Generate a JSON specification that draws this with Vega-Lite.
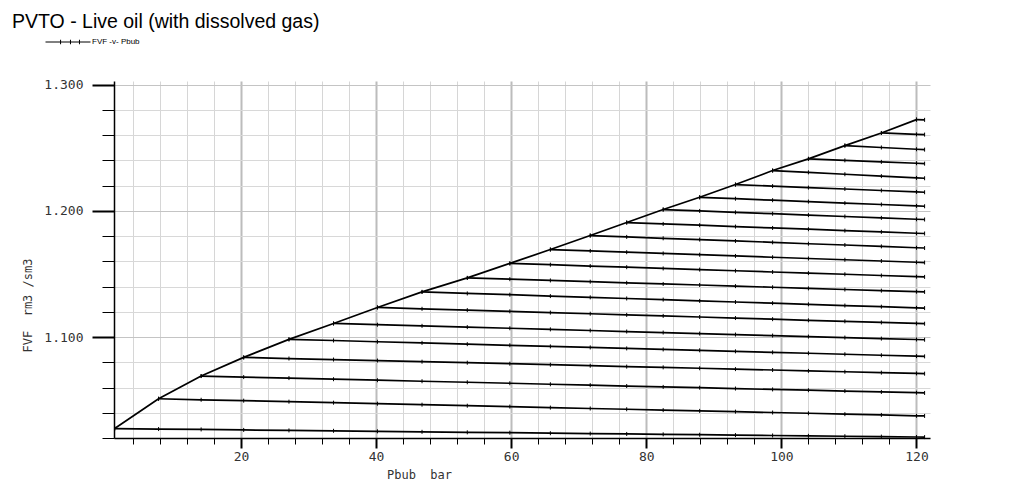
{
  "$schema": "https://vega.github.io/schema/vega-lite/v6.json",
  "width": 816,
  "height": 357,
  "autosize": {"type": "none"},
  "padding": {"left": 114, "top": 81, "right": 97, "bottom": 44},
  "background": "white",
  "config": {"view": {"stroke": null}},
  "title": {
    "text": "PVTO - Live oil (with dissolved gas)",
    "anchor": "start", "frame": "group", "orient": "top",
    "font": "Liberation Sans", "fontSize": 19.5, "fontWeight": "normal", "color": "#000000",
    "dx": -102, "offset": -28, "baseline": "alphabetic"
  },
  "data": {"values": [
    {"branch":"sat","pbub":1.3,"fvf":1.0275},{"branch":"sat","pbub":7.8,"fvf":1.0511},{"branch":"sat","pbub":14.1,"fvf":1.0691},{"branch":"sat","pbub":20.4,"fvf":1.0839},{"branch":"sat","pbub":27.1,"fvf":1.0982},{"branch":"sat","pbub":33.7,"fvf":1.1108},{"branch":"sat","pbub":40.2,"fvf":1.1235},{"branch":"sat","pbub":46.8,"fvf":1.1358},{"branch":"sat","pbub":53.5,"fvf":1.1469},{"branch":"sat","pbub":59.8,"fvf":1.1584},{"branch":"sat","pbub":65.8,"fvf":1.1694},{"branch":"sat","pbub":71.7,"fvf":1.1805},{"branch":"sat","pbub":77.1,"fvf":1.1908},{"branch":"sat","pbub":82.5,"fvf":1.2011},{"branch":"sat","pbub":87.9,"fvf":1.2108},{"branch":"sat","pbub":93.2,"fvf":1.2209},{"branch":"sat","pbub":98.7,"fvf":1.2320},{"branch":"sat","pbub":104.0,"fvf":1.2413},{"branch":"sat","pbub":109.4,"fvf":1.2518},{"branch":"sat","pbub":114.8,"fvf":1.2618},{"branch":"sat","pbub":120.0,"fvf":1.2724},

    {"branch":"1","pbub":1.3,"fvf":1.0275},{"branch":"1","pbub":7.8,"fvf":1.0271},{"branch":"1","pbub":14.1,"fvf":1.0268},{"branch":"1","pbub":20.4,"fvf":1.0264},{"branch":"1","pbub":27.1,"fvf":1.0260},{"branch":"1","pbub":33.7,"fvf":1.0257},{"branch":"1","pbub":40.2,"fvf":1.0253},{"branch":"1","pbub":46.8,"fvf":1.0249},{"branch":"1","pbub":53.5,"fvf":1.0245},{"branch":"1","pbub":59.8,"fvf":1.0242},{"branch":"1","pbub":65.8,"fvf":1.0238},{"branch":"1","pbub":71.7,"fvf":1.0235},{"branch":"1","pbub":77.1,"fvf":1.0232},{"branch":"1","pbub":82.5,"fvf":1.0229},{"branch":"1","pbub":87.9,"fvf":1.0226},{"branch":"1","pbub":93.2,"fvf":1.0223},{"branch":"1","pbub":98.7,"fvf":1.0220},{"branch":"1","pbub":104.0,"fvf":1.0217},{"branch":"1","pbub":109.4,"fvf":1.0214},{"branch":"1","pbub":114.8,"fvf":1.0211},{"branch":"1","pbub":120.0,"fvf":1.0208},{"branch":"1","pbub":121.2,"fvf":1.0207},

    {"branch":"2","pbub":7.8,"fvf":1.0511},{"branch":"2","pbub":14.1,"fvf":1.0503},{"branch":"2","pbub":20.4,"fvf":1.0496},{"branch":"2","pbub":27.1,"fvf":1.0488},{"branch":"2","pbub":33.7,"fvf":1.0480},{"branch":"2","pbub":40.2,"fvf":1.0472},{"branch":"2","pbub":46.8,"fvf":1.0464},{"branch":"2","pbub":53.5,"fvf":1.0456},{"branch":"2","pbub":59.8,"fvf":1.0449},{"branch":"2","pbub":65.8,"fvf":1.0441},{"branch":"2","pbub":71.7,"fvf":1.0434},{"branch":"2","pbub":77.1,"fvf":1.0428},{"branch":"2","pbub":82.5,"fvf":1.0421},{"branch":"2","pbub":87.9,"fvf":1.0415},{"branch":"2","pbub":93.2,"fvf":1.0409},{"branch":"2","pbub":98.7,"fvf":1.0402},{"branch":"2","pbub":104.0,"fvf":1.0396},{"branch":"2","pbub":109.4,"fvf":1.0389},{"branch":"2","pbub":114.8,"fvf":1.0383},{"branch":"2","pbub":120.0,"fvf":1.0376},{"branch":"2","pbub":121.2,"fvf":1.0375},

    {"branch":"3","pbub":14.1,"fvf":1.0691},{"branch":"3","pbub":20.4,"fvf":1.0683},{"branch":"3","pbub":27.1,"fvf":1.0675},{"branch":"3","pbub":33.7,"fvf":1.0666},{"branch":"3","pbub":40.2,"fvf":1.0658},{"branch":"3","pbub":46.8,"fvf":1.0650},{"branch":"3","pbub":53.5,"fvf":1.0642},{"branch":"3","pbub":59.8,"fvf":1.0634},{"branch":"3","pbub":65.8,"fvf":1.0626},{"branch":"3","pbub":71.7,"fvf":1.0619},{"branch":"3","pbub":77.1,"fvf":1.0612},{"branch":"3","pbub":82.5,"fvf":1.0605},{"branch":"3","pbub":87.9,"fvf":1.0599},{"branch":"3","pbub":93.2,"fvf":1.0592},{"branch":"3","pbub":98.7,"fvf":1.0585},{"branch":"3","pbub":104.0,"fvf":1.0579},{"branch":"3","pbub":109.4,"fvf":1.0572},{"branch":"3","pbub":114.8,"fvf":1.0565},{"branch":"3","pbub":120.0,"fvf":1.0559},{"branch":"3","pbub":121.2,"fvf":1.0557},

    {"branch":"4","pbub":20.4,"fvf":1.0839},{"branch":"4","pbub":27.1,"fvf":1.0830},{"branch":"4","pbub":33.7,"fvf":1.0822},{"branch":"4","pbub":40.2,"fvf":1.0814},{"branch":"4","pbub":46.8,"fvf":1.0805},{"branch":"4","pbub":53.5,"fvf":1.0797},{"branch":"4","pbub":59.8,"fvf":1.0789},{"branch":"4","pbub":65.8,"fvf":1.0781},{"branch":"4","pbub":71.7,"fvf":1.0773},{"branch":"4","pbub":77.1,"fvf":1.0766},{"branch":"4","pbub":82.5,"fvf":1.0760},{"branch":"4","pbub":87.9,"fvf":1.0753},{"branch":"4","pbub":93.2,"fvf":1.0746},{"branch":"4","pbub":98.7,"fvf":1.0739},{"branch":"4","pbub":104.0,"fvf":1.0732},{"branch":"4","pbub":109.4,"fvf":1.0725},{"branch":"4","pbub":114.8,"fvf":1.0718},{"branch":"4","pbub":120.0,"fvf":1.0712},{"branch":"4","pbub":121.2,"fvf":1.0710},

    {"branch":"5","pbub":27.1,"fvf":1.0982},{"branch":"5","pbub":33.7,"fvf":1.0973},{"branch":"5","pbub":40.2,"fvf":1.0963},{"branch":"5","pbub":46.8,"fvf":1.0954},{"branch":"5","pbub":53.5,"fvf":1.0944},{"branch":"5","pbub":59.8,"fvf":1.0935},{"branch":"5","pbub":65.8,"fvf":1.0926},{"branch":"5","pbub":71.7,"fvf":1.0918},{"branch":"5","pbub":77.1,"fvf":1.0910},{"branch":"5","pbub":82.5,"fvf":1.0902},{"branch":"5","pbub":87.9,"fvf":1.0895},{"branch":"5","pbub":93.2,"fvf":1.0887},{"branch":"5","pbub":98.7,"fvf":1.0879},{"branch":"5","pbub":104.0,"fvf":1.0872},{"branch":"5","pbub":109.4,"fvf":1.0864},{"branch":"5","pbub":114.8,"fvf":1.0856},{"branch":"5","pbub":120.0,"fvf":1.0849},{"branch":"5","pbub":121.2,"fvf":1.0847},

    {"branch":"6","pbub":33.7,"fvf":1.1108},{"branch":"6","pbub":40.2,"fvf":1.1098},{"branch":"6","pbub":46.8,"fvf":1.1089},{"branch":"6","pbub":53.5,"fvf":1.1079},{"branch":"6","pbub":59.8,"fvf":1.1070},{"branch":"6","pbub":65.8,"fvf":1.1061},{"branch":"6","pbub":71.7,"fvf":1.1052},{"branch":"6","pbub":77.1,"fvf":1.1044},{"branch":"6","pbub":82.5,"fvf":1.1036},{"branch":"6","pbub":87.9,"fvf":1.1028},{"branch":"6","pbub":93.2,"fvf":1.1020},{"branch":"6","pbub":98.7,"fvf":1.1012},{"branch":"6","pbub":104.0,"fvf":1.1004},{"branch":"6","pbub":109.4,"fvf":1.0996},{"branch":"6","pbub":114.8,"fvf":1.0988},{"branch":"6","pbub":120.0,"fvf":1.0981},{"branch":"6","pbub":121.2,"fvf":1.0979},

    {"branch":"7","pbub":40.2,"fvf":1.1235},{"branch":"7","pbub":46.8,"fvf":1.1224},{"branch":"7","pbub":53.5,"fvf":1.1214},{"branch":"7","pbub":59.8,"fvf":1.1204},{"branch":"7","pbub":65.8,"fvf":1.1194},{"branch":"7","pbub":71.7,"fvf":1.1185},{"branch":"7","pbub":77.1,"fvf":1.1176},{"branch":"7","pbub":82.5,"fvf":1.1168},{"branch":"7","pbub":87.9,"fvf":1.1159},{"branch":"7","pbub":93.2,"fvf":1.1151},{"branch":"7","pbub":98.7,"fvf":1.1142},{"branch":"7","pbub":104.0,"fvf":1.1133},{"branch":"7","pbub":109.4,"fvf":1.1125},{"branch":"7","pbub":114.8,"fvf":1.1116},{"branch":"7","pbub":120.0,"fvf":1.1108},{"branch":"7","pbub":121.2,"fvf":1.1106},

    {"branch":"8","pbub":46.8,"fvf":1.1358},{"branch":"8","pbub":53.5,"fvf":1.1346},{"branch":"8","pbub":59.8,"fvf":1.1336},{"branch":"8","pbub":65.8,"fvf":1.1325},{"branch":"8","pbub":71.7,"fvf":1.1315},{"branch":"8","pbub":77.1,"fvf":1.1306},{"branch":"8","pbub":82.5,"fvf":1.1297},{"branch":"8","pbub":87.9,"fvf":1.1287},{"branch":"8","pbub":93.2,"fvf":1.1278},{"branch":"8","pbub":98.7,"fvf":1.1269},{"branch":"8","pbub":104.0,"fvf":1.1260},{"branch":"8","pbub":109.4,"fvf":1.1250},{"branch":"8","pbub":114.8,"fvf":1.1241},{"branch":"8","pbub":120.0,"fvf":1.1232},{"branch":"8","pbub":121.2,"fvf":1.1230},

    {"branch":"9","pbub":53.5,"fvf":1.1469},{"branch":"9","pbub":59.8,"fvf":1.1459},{"branch":"9","pbub":65.8,"fvf":1.1449},{"branch":"9","pbub":71.7,"fvf":1.1439},{"branch":"9","pbub":77.1,"fvf":1.1430},{"branch":"9","pbub":82.5,"fvf":1.1421},{"branch":"9","pbub":87.9,"fvf":1.1413},{"branch":"9","pbub":93.2,"fvf":1.1404},{"branch":"9","pbub":98.7,"fvf":1.1395},{"branch":"9","pbub":104.0,"fvf":1.1386},{"branch":"9","pbub":109.4,"fvf":1.1377},{"branch":"9","pbub":114.8,"fvf":1.1368},{"branch":"9","pbub":120.0,"fvf":1.1360},{"branch":"9","pbub":121.2,"fvf":1.1358},

    {"branch":"10","pbub":59.8,"fvf":1.1584},{"branch":"10","pbub":65.8,"fvf":1.1574},{"branch":"10","pbub":71.7,"fvf":1.1563},{"branch":"10","pbub":77.1,"fvf":1.1554},{"branch":"10","pbub":82.5,"fvf":1.1544},{"branch":"10","pbub":87.9,"fvf":1.1535},{"branch":"10","pbub":93.2,"fvf":1.1526},{"branch":"10","pbub":98.7,"fvf":1.1516},{"branch":"10","pbub":104.0,"fvf":1.1507},{"branch":"10","pbub":109.4,"fvf":1.1498},{"branch":"10","pbub":114.8,"fvf":1.1488},{"branch":"10","pbub":120.0,"fvf":1.1479},{"branch":"10","pbub":121.2,"fvf":1.1477},

    {"branch":"11","pbub":65.8,"fvf":1.1694},{"branch":"11","pbub":71.7,"fvf":1.1683},{"branch":"11","pbub":77.1,"fvf":1.1673},{"branch":"11","pbub":82.5,"fvf":1.1663},{"branch":"11","pbub":87.9,"fvf":1.1653},{"branch":"11","pbub":93.2,"fvf":1.1643},{"branch":"11","pbub":98.7,"fvf":1.1633},{"branch":"11","pbub":104.0,"fvf":1.1623},{"branch":"11","pbub":109.4,"fvf":1.1613},{"branch":"11","pbub":114.8,"fvf":1.1603},{"branch":"11","pbub":120.0,"fvf":1.1593},{"branch":"11","pbub":121.2,"fvf":1.1591},

    {"branch":"12","pbub":71.7,"fvf":1.1805},{"branch":"12","pbub":77.1,"fvf":1.1794},{"branch":"12","pbub":82.5,"fvf":1.1783},{"branch":"12","pbub":87.9,"fvf":1.1773},{"branch":"12","pbub":93.2,"fvf":1.1762},{"branch":"12","pbub":98.7,"fvf":1.1751},{"branch":"12","pbub":104.0,"fvf":1.1740},{"branch":"12","pbub":109.4,"fvf":1.1730},{"branch":"12","pbub":114.8,"fvf":1.1719},{"branch":"12","pbub":120.0,"fvf":1.1708},{"branch":"12","pbub":121.2,"fvf":1.1706},

    {"branch":"13","pbub":77.1,"fvf":1.1908},{"branch":"13","pbub":82.5,"fvf":1.1897},{"branch":"13","pbub":87.9,"fvf":1.1887},{"branch":"13","pbub":93.2,"fvf":1.1876},{"branch":"13","pbub":98.7,"fvf":1.1865},{"branch":"13","pbub":104.0,"fvf":1.1855},{"branch":"13","pbub":109.4,"fvf":1.1844},{"branch":"13","pbub":114.8,"fvf":1.1834},{"branch":"13","pbub":120.0,"fvf":1.1823},{"branch":"13","pbub":121.2,"fvf":1.1821},

    {"branch":"14","pbub":82.5,"fvf":1.2011},{"branch":"14","pbub":87.9,"fvf":1.2000},{"branch":"14","pbub":93.2,"fvf":1.1989},{"branch":"14","pbub":98.7,"fvf":1.1978},{"branch":"14","pbub":104.0,"fvf":1.1967},{"branch":"14","pbub":109.4,"fvf":1.1956},{"branch":"14","pbub":114.8,"fvf":1.1945},{"branch":"14","pbub":120.0,"fvf":1.1934},{"branch":"14","pbub":121.2,"fvf":1.1932},

    {"branch":"15","pbub":87.9,"fvf":1.2108},{"branch":"15","pbub":93.2,"fvf":1.2097},{"branch":"15","pbub":98.7,"fvf":1.2085},{"branch":"15","pbub":104.0,"fvf":1.2074},{"branch":"15","pbub":109.4,"fvf":1.2062},{"branch":"15","pbub":114.8,"fvf":1.2051},{"branch":"15","pbub":120.0,"fvf":1.2040},{"branch":"15","pbub":121.2,"fvf":1.2037},

    {"branch":"16","pbub":93.2,"fvf":1.2209},{"branch":"16","pbub":98.7,"fvf":1.2197},{"branch":"16","pbub":104.0,"fvf":1.2185},{"branch":"16","pbub":109.4,"fvf":1.2174},{"branch":"16","pbub":114.8,"fvf":1.2162},{"branch":"16","pbub":120.0,"fvf":1.2151},{"branch":"16","pbub":121.2,"fvf":1.2148},

    {"branch":"17","pbub":98.7,"fvf":1.2320},{"branch":"17","pbub":104.0,"fvf":1.2306},{"branch":"17","pbub":109.4,"fvf":1.2291},{"branch":"17","pbub":114.8,"fvf":1.2276},{"branch":"17","pbub":120.0,"fvf":1.2262},{"branch":"17","pbub":121.2,"fvf":1.2259},

    {"branch":"18","pbub":104.0,"fvf":1.2413},{"branch":"18","pbub":109.4,"fvf":1.2401},{"branch":"18","pbub":114.8,"fvf":1.2389},{"branch":"18","pbub":120.0,"fvf":1.2378},{"branch":"18","pbub":121.2,"fvf":1.2375},

    {"branch":"19","pbub":109.4,"fvf":1.2518},{"branch":"19","pbub":114.8,"fvf":1.2503},{"branch":"19","pbub":120.0,"fvf":1.2489},{"branch":"19","pbub":121.2,"fvf":1.2486},

    {"branch":"20","pbub":114.8,"fvf":1.2618},{"branch":"20","pbub":120.0,"fvf":1.2607},{"branch":"20","pbub":121.2,"fvf":1.2605},

    {"branch":"21","pbub":120.0,"fvf":1.2724},{"branch":"21","pbub":121.2,"fvf":1.2722}
  ]},
  "layer": [
    {
      "mark": {"type": "line", "strokeWidth": 1.7, "clip": false},
      "encoding": {
        "x": {
          "field": "pbub", "type": "quantitative",
          "scale": {"domain": [1.2, 122], "nice": false, "zero": false},
          "axis": {
            "values": [4,8,12,16,20,24,28,32,36,40,44,48,52,56,60,64,68,72,76,80,84,88,92,96,100,104,108,112,116,120],
            "tickCount": 200,
            "format": "d",
            "labelExpr": "datum.value % 20 === 0 ? datum.label : ''",
            "labelFlush": false, "labelOverlap": false,
            "labelFont": "DejaVu Sans Mono", "labelFontSize": 13, "labelColor": "#333333", "labelPadding": 2,
            "domain": true, "domainColor": "#000000", "domainWidth": 1.5,
            "ticks": true, "tickColor": "#000000",
            "tickSize": {"condition": {"test": "datum.value % 20 === 0", "value": 10}, "value": 6},
            "tickWidth": {"condition": {"test": "datum.value % 20 === 0", "value": 2}, "value": 1},
            "grid": true,
            "gridColor": {"condition": {"test": "datum.value % 20 === 0", "value": "#bcbcbc"}, "value": "#d6d6d6"},
            "gridWidth": {"condition": {"test": "datum.value % 20 === 0", "value": 2}, "value": 1},
            "title": "Pbub\u00a0\u00a0bar",
            "titleFont": "DejaVu Sans Mono", "titleFontSize": 12, "titleFontWeight": "normal", "titleColor": "#333333",
            "titleX": 305, "titleY": 36, "titleAlign": "center", "titleBaseline": "middle"
          }
        },
        "y": {
          "field": "fvf", "type": "quantitative",
          "scale": {"domain": [1.02, 1.303], "nice": false, "zero": false},
          "axis": {
            "values": [1.02,1.04,1.06,1.08,1.1,1.12,1.14,1.16,1.18,1.2,1.22,1.24,1.26,1.28,1.3],
            "tickCount": 200,
            "format": ".3f",
            "labelExpr": "abs(datum.value*10 - round(datum.value*10)) < 0.001 ? datum.label : ''",
            "labelFlush": false, "labelOverlap": false,
            "labelFont": "DejaVu Sans Mono", "labelFontSize": 13, "labelColor": "#333333", "labelPadding": 9,
            "domain": true, "domainColor": "#000000", "domainWidth": 1.5,
            "ticks": true, "tickColor": "#000000",
            "tickSize": {"condition": {"test": "abs(datum.value*10 - round(datum.value*10)) < 0.001", "value": 22}, "value": 12},
            "tickWidth": {"condition": {"test": "abs(datum.value*10 - round(datum.value*10)) < 0.001", "value": 2}, "value": 1},
            "grid": true,
            "gridColor": {"condition": {"test": "abs(datum.value*10 - round(datum.value*10)) < 0.001", "value": "#c4c4c4"}, "value": "#d8d8d8"},
            "gridWidth": 1,
            "title": "FVF\u00a0\u00a0rm3\u00a0/sm3",
            "titleFont": "DejaVu Sans Mono", "titleFontSize": 12, "titleFontWeight": "normal", "titleColor": "#333333",
            "titleX": -87, "titleY": 224, "titleAlign": "center", "titleBaseline": "middle", "titleAngle": -90
          }
        },
        "detail": {"field": "branch", "type": "nominal"},
        "color": {
          "datum": "FVF -v- Pbub", "type": "nominal",
          "scale": {"range": ["#000000"]},
          "legend": {
            "title": null, "orient": "none", "legendX": -69, "legendY": -62,
            "symbolType": "M-1,0H1M-0.33,-0.1V0.1M0.11,-0.1V0.1M0.51,-0.1V0.1",
            "symbolSize": 2025, "symbolStrokeColor": "#000000", "symbolStrokeWidth": 1,
            "symbolFillColor": "transparent",
            "labelFont": "Liberation Sans", "labelFontSize": 8, "labelColor": "#000000", "labelOffset": 1,
            "padding": 0
          }
        }
      }
    },
    {
      "mark": {"type": "point", "shape": "M0,-1V1", "size": 16, "filled": false, "stroke": "#000000", "strokeWidth": 1, "opacity": 1, "clip": false},
      "encoding": {
        "x": {"field": "pbub", "type": "quantitative"},
        "y": {"field": "fvf", "type": "quantitative"}
      }
    }
  ]
}
